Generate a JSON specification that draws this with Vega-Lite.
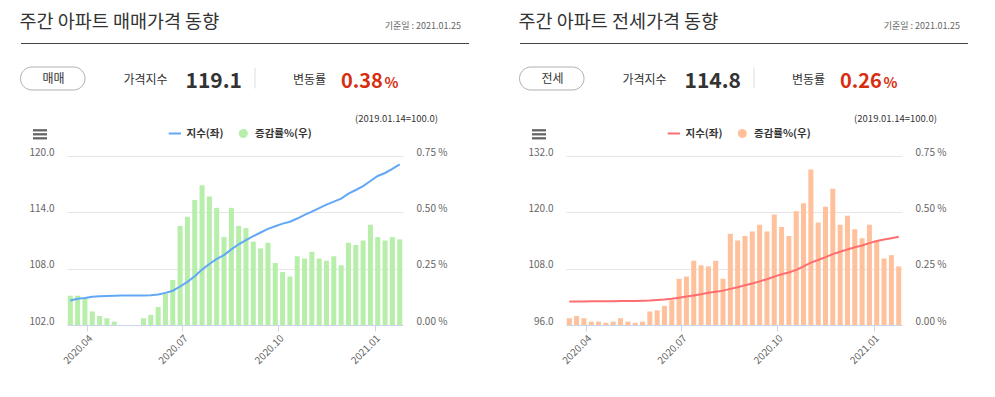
{
  "$schema": "https://vega.github.io/schema/vega-lite/v6.json",
  "background": "white",
  "padding": 0,
  "spacing": 4,
  "config": {"font": "Noto Sans CJK KR", "view": {"stroke": null}, "axis": {"labelFont": "Noto Sans CJK KR"}},
  "datasets": {
    "sale": [
      {"date":"2020-03-16","idx":104.6,"chg":0.13},
      {"date":"2020-03-23","idx":104.8,"chg":0.13},
      {"date":"2020-03-30","idx":104.88,"chg":0.12},
      {"date":"2020-04-06","idx":105.0,"chg":0.06},
      {"date":"2020-04-13","idx":105.05,"chg":0.04},
      {"date":"2020-04-20","idx":105.08,"chg":0.03},
      {"date":"2020-04-27","idx":105.11,"chg":0.015},
      {"date":"2020-05-04","idx":105.13,"chg":0},
      {"date":"2020-05-11","idx":105.13,"chg":0},
      {"date":"2020-05-18","idx":105.13,"chg":0},
      {"date":"2020-05-25","idx":105.13,"chg":0.03},
      {"date":"2020-06-01","idx":105.16,"chg":0.045},
      {"date":"2020-06-08","idx":105.26,"chg":0.08},
      {"date":"2020-06-15","idx":105.42,"chg":0.14},
      {"date":"2020-06-22","idx":105.65,"chg":0.2},
      {"date":"2020-06-29","idx":106.1,"chg":0.44},
      {"date":"2020-07-06","idx":106.6,"chg":0.48},
      {"date":"2020-07-13","idx":107.2,"chg":0.555},
      {"date":"2020-07-20","idx":107.9,"chg":0.62},
      {"date":"2020-07-27","idx":108.5,"chg":0.57},
      {"date":"2020-08-03","idx":109.05,"chg":0.52},
      {"date":"2020-08-10","idx":109.45,"chg":0.39},
      {"date":"2020-08-17","idx":110.05,"chg":0.52},
      {"date":"2020-08-24","idx":110.6,"chg":0.44},
      {"date":"2020-08-31","idx":111.04,"chg":0.43},
      {"date":"2020-09-07","idx":111.46,"chg":0.37},
      {"date":"2020-09-14","idx":111.85,"chg":0.34},
      {"date":"2020-09-21","idx":112.24,"chg":0.365},
      {"date":"2020-09-28","idx":112.52,"chg":0.275},
      {"date":"2020-10-05","idx":112.8,"chg":0.235},
      {"date":"2020-10-12","idx":113.0,"chg":0.215},
      {"date":"2020-10-19","idx":113.34,"chg":0.305},
      {"date":"2020-10-26","idx":113.73,"chg":0.295},
      {"date":"2020-11-02","idx":114.08,"chg":0.325},
      {"date":"2020-11-09","idx":114.44,"chg":0.295},
      {"date":"2020-11-16","idx":114.82,"chg":0.285},
      {"date":"2020-11-23","idx":115.14,"chg":0.305},
      {"date":"2020-11-30","idx":115.46,"chg":0.265},
      {"date":"2020-12-07","idx":115.99,"chg":0.365},
      {"date":"2020-12-14","idx":116.38,"chg":0.355},
      {"date":"2020-12-21","idx":116.8,"chg":0.375},
      {"date":"2020-12-28","idx":117.34,"chg":0.445},
      {"date":"2021-01-04","idx":117.87,"chg":0.39},
      {"date":"2021-01-11","idx":118.19,"chg":0.375},
      {"date":"2021-01-18","idx":118.62,"chg":0.39},
      {"date":"2021-01-25","idx":119.1,"chg":0.38}
    ],
    "jeonse": [
      {"date":"2020-03-16","idx":101.0,"chg":0.03},
      {"date":"2020-03-23","idx":101.0,"chg":0.04},
      {"date":"2020-03-30","idx":101.02,"chg":0.03},
      {"date":"2020-04-06","idx":101.05,"chg":0.015},
      {"date":"2020-04-13","idx":101.05,"chg":0.015},
      {"date":"2020-04-20","idx":101.07,"chg":0.01},
      {"date":"2020-04-27","idx":101.08,"chg":0.015},
      {"date":"2020-05-04","idx":101.1,"chg":0.03},
      {"date":"2020-05-11","idx":101.1,"chg":0.015},
      {"date":"2020-05-18","idx":101.12,"chg":0.01},
      {"date":"2020-05-25","idx":101.15,"chg":0.015},
      {"date":"2020-06-01","idx":101.2,"chg":0.06},
      {"date":"2020-06-08","idx":101.3,"chg":0.065},
      {"date":"2020-06-15","idx":101.42,"chg":0.085},
      {"date":"2020-06-22","idx":101.58,"chg":0.11},
      {"date":"2020-06-29","idx":101.82,"chg":0.205},
      {"date":"2020-07-06","idx":102.05,"chg":0.215},
      {"date":"2020-07-13","idx":102.3,"chg":0.285},
      {"date":"2020-07-20","idx":102.55,"chg":0.265},
      {"date":"2020-07-27","idx":102.85,"chg":0.26},
      {"date":"2020-08-03","idx":103.1,"chg":0.285},
      {"date":"2020-08-10","idx":103.32,"chg":0.205},
      {"date":"2020-08-17","idx":103.7,"chg":0.405},
      {"date":"2020-08-24","idx":104.05,"chg":0.375},
      {"date":"2020-08-31","idx":104.45,"chg":0.395},
      {"date":"2020-09-07","idx":104.85,"chg":0.415},
      {"date":"2020-09-14","idx":105.3,"chg":0.445},
      {"date":"2020-09-21","idx":105.75,"chg":0.415},
      {"date":"2020-09-28","idx":106.3,"chg":0.49},
      {"date":"2020-10-05","idx":106.8,"chg":0.435},
      {"date":"2020-10-12","idx":107.2,"chg":0.395},
      {"date":"2020-10-19","idx":107.75,"chg":0.505},
      {"date":"2020-10-26","idx":108.5,"chg":0.54},
      {"date":"2020-11-02","idx":109.3,"chg":0.69},
      {"date":"2020-11-09","idx":109.85,"chg":0.455},
      {"date":"2020-11-16","idx":110.45,"chg":0.525},
      {"date":"2020-11-23","idx":111.1,"chg":0.605},
      {"date":"2020-11-30","idx":111.6,"chg":0.445},
      {"date":"2020-12-07","idx":112.1,"chg":0.485},
      {"date":"2020-12-14","idx":112.55,"chg":0.425},
      {"date":"2020-12-21","idx":112.95,"chg":0.385},
      {"date":"2020-12-28","idx":113.45,"chg":0.445},
      {"date":"2021-01-04","idx":113.9,"chg":0.375},
      {"date":"2021-01-11","idx":114.2,"chg":0.295},
      {"date":"2021-01-18","idx":114.5,"chg":0.31},
      {"date":"2021-01-25","idx":114.8,"chg":0.26}
    ]
  },
  "hconcat": [
    {
      "width": 336, "height": 169,
      "resolve": {"scale": {"y": "independent"}},
      "layer": [
        {"data": {"values": [{}]}, "mark": {"type": "rule", "color": "#ffffff", "strokeWidth": 1}, "encoding": {"x": {"value": -66}, "x2": {"value": 427}, "y": {"value": -155}}},
        {"data": {"values": [{}]}, "mark": {"type": "text", "text": "주간 아파트 매매가격 동향", "align": "left", "baseline": "alphabetic", "fontSize": 18.5, "color": "#333333"}, "encoding": {"x": {"value": -47.5}, "y": {"value": -128}}},
        {"data": {"values": [{}]}, "mark": {"type": "text", "text": "기준일 : 2021.01.25", "align": "right", "baseline": "alphabetic", "fontSize": 9, "color": "#666666"}, "encoding": {"x": {"value": 394}, "y": {"value": -127}}},
        {"data": {"values": [{}]}, "mark": {"type": "rule", "color": "#444444", "strokeWidth": 1}, "encoding": {"x": {"value": -46}, "x2": {"value": 402}, "y": {"value": -112.5}}},
        {"data": {"values": [{}]}, "mark": {"type": "rect", "cornerRadius": 11.5, "fill": "#ffffff", "stroke": "#b0b0b0", "strokeWidth": 1}, "encoding": {"x": {"value": -46.5}, "x2": {"value": 18}, "y": {"value": -89}, "y2": {"value": -66}}},
        {"data": {"values": [{}]}, "mark": {"type": "text", "text": "매매", "align": "center", "baseline": "alphabetic", "fontSize": 12, "color": "#333333"}, "encoding": {"x": {"value": -13.5}, "y": {"value": -73.5}}},
        {"data": {"values": [{}]}, "mark": {"type": "text", "text": "가격지수", "align": "left", "baseline": "alphabetic", "fontSize": 12, "color": "#333333"}, "encoding": {"x": {"value": 56.5}, "y": {"value": -72.5}}},
        {"data": {"values": [{}]}, "mark": {"type": "text", "text": "119.1", "align": "left", "baseline": "alphabetic", "fontSize": 21, "fontWeight": "bold", "color": "#333333"}, "encoding": {"x": {"value": 118.5}, "y": {"value": -68}}},
        {"data": {"values": [{}]}, "mark": {"type": "rule", "color": "#dddddd", "strokeWidth": 1}, "encoding": {"x": {"value": 188}, "y": {"value": -88.5}, "y2": {"value": -67.5}}},
        {"data": {"values": [{}]}, "mark": {"type": "text", "text": "변동률", "align": "left", "baseline": "alphabetic", "fontSize": 12, "color": "#333333"}, "encoding": {"x": {"value": 226}, "y": {"value": -72.5}}},
        {"data": {"values": [{}]}, "mark": {"type": "text", "text": "0.38", "align": "left", "baseline": "alphabetic", "fontSize": 20, "fontWeight": "bold", "color": "#d72e10"}, "encoding": {"x": {"value": 274}, "y": {"value": -68}}},
        {"data": {"values": [{}]}, "mark": {"type": "text", "text": "%", "align": "left", "baseline": "alphabetic", "fontSize": 14.5, "fontWeight": "bold", "color": "#d72e10"}, "encoding": {"x": {"value": 317.5}, "y": {"value": -68}}},
        {"data": {"values": [{}]}, "mark": {"type": "text", "text": "(2019.01.14=100.0)", "align": "right", "baseline": "alphabetic", "fontSize": 9.5, "color": "#333333"}, "encoding": {"x": {"value": 371}, "y": {"value": -34}}},
        {"data": {"values": [{}]}, "mark": {"type": "rule", "color": "#666666", "strokeWidth": 2.3}, "encoding": {"x": {"value": -34}, "x2": {"value": -20}, "y": {"value": -25.7}}},
        {"data": {"values": [{}]}, "mark": {"type": "rule", "color": "#666666", "strokeWidth": 2.3}, "encoding": {"x": {"value": -34}, "x2": {"value": -20}, "y": {"value": -21.7}}},
        {"data": {"values": [{}]}, "mark": {"type": "rule", "color": "#666666", "strokeWidth": 2.3}, "encoding": {"x": {"value": -34}, "x2": {"value": -20}, "y": {"value": -17.7}}},
        {"data": {"values": [{}]}, "mark": {"type": "rule", "color": "#62a8f6", "strokeWidth": 2}, "encoding": {"x": {"value": 101.7}, "x2": {"value": 114}, "y": {"value": -22.5}}},
        {"data": {"values": [{}]}, "mark": {"type": "text", "text": "지수(좌)", "align": "left", "baseline": "middle", "fontSize": 10.5, "fontWeight": "bold", "color": "#333333"}, "encoding": {"x": {"value": 119.5}, "y": {"value": -22.5}}},
        {"data": {"values": [{}]}, "mark": {"type": "circle", "size": 80, "opacity": 1, "color": "#b6eeaa"}, "encoding": {"x": {"value": 176.3}, "y": {"value": -22.5}}},
        {"data": {"values": [{}]}, "mark": {"type": "text", "text": "증감률%(우)", "align": "left", "baseline": "middle", "fontSize": 10.5, "fontWeight": "bold", "color": "#333333"}, "encoding": {"x": {"value": 188}, "y": {"value": -22.5}}},
        {
          "data": {"name": "sale"},
          "mark": {"type": "bar", "width": 5, "color": "#b6eeaa"},
          "encoding": {
            "x": {"field": "date", "type": "temporal", "scale": {"type": "utc", "padding": 3.3, "nice": false},
                  "axis": {"orient": "bottom", "format": "%Y.%m", "tickCount": {"interval": "month", "step": 3}, "labelAngle": -45, "labelColor": "#666666", "labelFontSize": 10, "domainColor": "#ccd6eb", "tickColor": "#ccd6eb", "tickSize": 6, "grid": false, "title": null, "labelPadding": 2}},
            "y": {"field": "chg", "type": "quantitative", "scale": {"domain": [0, 0.75], "nice": false, "zero": true},
                  "axis": {"orient": "right", "values": [0, 0.25, 0.5, 0.75], "labelExpr": "format(datum.value, '.2f') + ' %'", "grid": false, "domain": false, "ticks": false, "labelPadding": 13, "labelColor": "#666666", "labelFontSize": 10, "labelBaseline": "alphabetic", "labelOffset": -1, "title": null}}
          }
        },
        {
          "data": {"name": "sale"},
          "mark": {"type": "line", "color": "#62a8f6", "strokeWidth": 2},
          "encoding": {
            "x": {"field": "date", "type": "temporal"},
            "y": {"field": "idx", "type": "quantitative", "scale": {"domain": [102, 120], "nice": false, "zero": false},
                  "axis": {"orient": "left", "values": [102, 108, 114, 120], "format": ".1f", "grid": true, "gridColor": "#e6e6e6", "domain": false, "ticks": false, "labelPadding": 13, "labelColor": "#666666", "labelFontSize": 10, "labelBaseline": "alphabetic", "labelOffset": -1, "title": null}}
          }
        }
      ]
    },
    {
      "width": 336, "height": 169,
      "resolve": {"scale": {"y": "independent"}},
      "layer": [
        {"data": {"values": [{}]}, "mark": {"type": "rule", "color": "#ffffff", "strokeWidth": 1}, "encoding": {"x": {"value": -66}, "x2": {"value": 427}, "y": {"value": -155}}},
        {"data": {"values": [{}]}, "mark": {"type": "text", "text": "주간 아파트 전세가격 동향", "align": "left", "baseline": "alphabetic", "fontSize": 18.5, "color": "#333333"}, "encoding": {"x": {"value": -47.5}, "y": {"value": -128}}},
        {"data": {"values": [{}]}, "mark": {"type": "text", "text": "기준일 : 2021.01.25", "align": "right", "baseline": "alphabetic", "fontSize": 9, "color": "#666666"}, "encoding": {"x": {"value": 394}, "y": {"value": -127}}},
        {"data": {"values": [{}]}, "mark": {"type": "rule", "color": "#444444", "strokeWidth": 1}, "encoding": {"x": {"value": -46}, "x2": {"value": 402}, "y": {"value": -112.5}}},
        {"data": {"values": [{}]}, "mark": {"type": "rect", "cornerRadius": 11.5, "fill": "#ffffff", "stroke": "#b0b0b0", "strokeWidth": 1}, "encoding": {"x": {"value": -46.5}, "x2": {"value": 18}, "y": {"value": -89}, "y2": {"value": -66}}},
        {"data": {"values": [{}]}, "mark": {"type": "text", "text": "전세", "align": "center", "baseline": "alphabetic", "fontSize": 12, "color": "#333333"}, "encoding": {"x": {"value": -13.5}, "y": {"value": -73.5}}},
        {"data": {"values": [{}]}, "mark": {"type": "text", "text": "가격지수", "align": "left", "baseline": "alphabetic", "fontSize": 12, "color": "#333333"}, "encoding": {"x": {"value": 56.5}, "y": {"value": -72.5}}},
        {"data": {"values": [{}]}, "mark": {"type": "text", "text": "114.8", "align": "left", "baseline": "alphabetic", "fontSize": 21, "fontWeight": "bold", "color": "#333333"}, "encoding": {"x": {"value": 118.5}, "y": {"value": -68}}},
        {"data": {"values": [{}]}, "mark": {"type": "rule", "color": "#dddddd", "strokeWidth": 1}, "encoding": {"x": {"value": 188}, "y": {"value": -88.5}, "y2": {"value": -67.5}}},
        {"data": {"values": [{}]}, "mark": {"type": "text", "text": "변동률", "align": "left", "baseline": "alphabetic", "fontSize": 12, "color": "#333333"}, "encoding": {"x": {"value": 226}, "y": {"value": -72.5}}},
        {"data": {"values": [{}]}, "mark": {"type": "text", "text": "0.26", "align": "left", "baseline": "alphabetic", "fontSize": 20, "fontWeight": "bold", "color": "#d72e10"}, "encoding": {"x": {"value": 274}, "y": {"value": -68}}},
        {"data": {"values": [{}]}, "mark": {"type": "text", "text": "%", "align": "left", "baseline": "alphabetic", "fontSize": 14.5, "fontWeight": "bold", "color": "#d72e10"}, "encoding": {"x": {"value": 317.5}, "y": {"value": -68}}},
        {"data": {"values": [{}]}, "mark": {"type": "text", "text": "(2019.01.14=100.0)", "align": "right", "baseline": "alphabetic", "fontSize": 9.5, "color": "#333333"}, "encoding": {"x": {"value": 371}, "y": {"value": -34}}},
        {"data": {"values": [{}]}, "mark": {"type": "rule", "color": "#666666", "strokeWidth": 2.3}, "encoding": {"x": {"value": -34}, "x2": {"value": -20}, "y": {"value": -25.7}}},
        {"data": {"values": [{}]}, "mark": {"type": "rule", "color": "#666666", "strokeWidth": 2.3}, "encoding": {"x": {"value": -34}, "x2": {"value": -20}, "y": {"value": -21.7}}},
        {"data": {"values": [{}]}, "mark": {"type": "rule", "color": "#666666", "strokeWidth": 2.3}, "encoding": {"x": {"value": -34}, "x2": {"value": -20}, "y": {"value": -17.7}}},
        {"data": {"values": [{}]}, "mark": {"type": "rule", "color": "#ff6e6e", "strokeWidth": 2}, "encoding": {"x": {"value": 101.7}, "x2": {"value": 114}, "y": {"value": -22.5}}},
        {"data": {"values": [{}]}, "mark": {"type": "text", "text": "지수(좌)", "align": "left", "baseline": "middle", "fontSize": 10.5, "fontWeight": "bold", "color": "#333333"}, "encoding": {"x": {"value": 119.5}, "y": {"value": -22.5}}},
        {"data": {"values": [{}]}, "mark": {"type": "circle", "size": 80, "opacity": 1, "color": "#ffc09c"}, "encoding": {"x": {"value": 176.3}, "y": {"value": -22.5}}},
        {"data": {"values": [{}]}, "mark": {"type": "text", "text": "증감률%(우)", "align": "left", "baseline": "middle", "fontSize": 10.5, "fontWeight": "bold", "color": "#333333"}, "encoding": {"x": {"value": 188}, "y": {"value": -22.5}}},
        {
          "data": {"name": "jeonse"},
          "mark": {"type": "bar", "width": 5, "color": "#ffc09c"},
          "encoding": {
            "x": {"field": "date", "type": "temporal", "scale": {"type": "utc", "padding": 3.3, "nice": false},
                  "axis": {"orient": "bottom", "format": "%Y.%m", "tickCount": {"interval": "month", "step": 3}, "labelAngle": -45, "labelColor": "#666666", "labelFontSize": 10, "domainColor": "#ccd6eb", "tickColor": "#ccd6eb", "tickSize": 6, "grid": false, "title": null, "labelPadding": 2}},
            "y": {"field": "chg", "type": "quantitative", "scale": {"domain": [0, 0.75], "nice": false, "zero": true},
                  "axis": {"orient": "right", "values": [0, 0.25, 0.5, 0.75], "labelExpr": "format(datum.value, '.2f') + ' %'", "grid": false, "domain": false, "ticks": false, "labelPadding": 13, "labelColor": "#666666", "labelFontSize": 10, "labelBaseline": "alphabetic", "labelOffset": -1, "title": null}}
          }
        },
        {
          "data": {"name": "jeonse"},
          "mark": {"type": "line", "color": "#ff6e6e", "strokeWidth": 2},
          "encoding": {
            "x": {"field": "date", "type": "temporal"},
            "y": {"field": "idx", "type": "quantitative", "scale": {"domain": [96, 132], "nice": false, "zero": false},
                  "axis": {"orient": "left", "values": [96, 108, 120, 132], "format": ".1f", "grid": true, "gridColor": "#e6e6e6", "domain": false, "ticks": false, "labelPadding": 13, "labelColor": "#666666", "labelFontSize": 10, "labelBaseline": "alphabetic", "labelOffset": -1, "title": null}}
          }
        }
      ]
    }
  ]
}
